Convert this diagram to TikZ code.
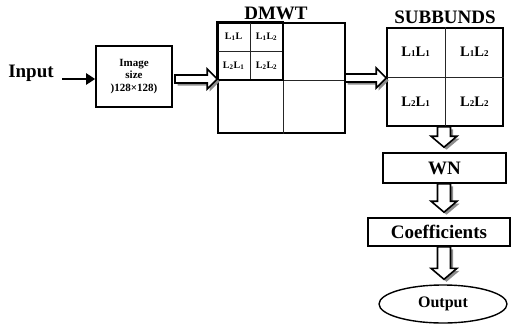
\documentclass[tikz,border=0pt]{standalone}
\usepackage{fontspec}
\setmainfont{Liberation Serif}
\usetikzlibrary{calc,arrows.meta,shapes.geometric}
\newcommand\hollowRpath[4]{%
  \path[#1] let \p1=(#3), \p2=(#4), \n1={\x2-\x1-10pt} in
    ($(#3)+(#2,#2)$) ++(0,-4) -- ++(\n1,0pt) -- ++(0,-6) -- ++(10,10) -- ++(-10,10)
    -- ++(0,-6) -- ++(-\n1,0pt) -- cycle;}
\newcommand\hollowright[2]{\hollowRpath{shadowfill}{2.5}{#1}{#2}\hollowRpath{arrowfill}{0}{#1}{#2}}
\newcommand\hollowDpath[4]{%
  \path[#1] let \p1=(#3), \p2=(#4), \n1={\y1-\y2-16pt} in
    ($(#3)+(#2,#2)$) ++(-6.5,0) -- ++(0pt,-\n1) -- ++(-6.5,0) -- ++(13,11) -- ++(13,-11)
    -- ++(-6.5,0) -- ++(0pt,\n1) -- cycle;}
\newcommand\hollowdown[2]{\hollowDpath{shadowfill}{2.5}{#1}{#2}\hollowDpath{arrowfill}{0}{#1}{#2}}
\newcommand\sbs[1]{{\fontsize{9}{10}\selectfont #1}}
\begin{document}
\begin{tikzpicture}[x=1pt,y=-1pt,
  box/.style={draw, line width=1.6pt, inner sep=0pt},
  lbl/.style={font=\bfseries\fontsize{19}{21}\selectfont},
  divider/.style={line width=0.8pt, draw=black!85},
  arrowfill/.style={fill=white, draw=black, line width=1.6pt, line join=miter},
  shadowfill/.style={fill=black!45},
  small/.style={font=\bfseries\fontsize{10}{11}\selectfont},
  mid/.style={font=\bfseries\fontsize{14.5}{16}\selectfont}]
\useasboundingbox (0,0) rectangle (511,330);

% input and image box
\node[lbl] (input) at (31,73) {Input};
\node[box, minimum width=76pt, minimum height=61pt, align=center,
      font=\bfseries\fontsize{11}{12.5}\selectfont] (img) at (134,76.5) {Image\\size\\)128×128)};
\coordinate (a0) at (62,79);
\draw[line width=2.6pt, -{Triangle[length=9pt,width=11pt]}] (a0) -- (a0 -| img.west);

% DMWT
\node[box, minimum width=127pt, minimum height=110pt] (dmwt) at (281.5,78) {};
\node[lbl] (dmwtl) at (276,13) {DMWT};
\coordinate (dmc) at (283,80);
\draw[divider] (dmc |- dmwt.north) -- (dmc |- dmwt.south);
\draw[divider] (dmc -| dmwt.west) -- (dmc -| dmwt.east);
\coordinate (qc) at ($(dmwt.north west)!0.5!(dmc)$);
\draw[divider] (qc |- dmwt.north) -- (qc |- dmc);
\draw[divider] (qc -| dmwt.west) -- (qc -| dmc);
\draw[line width=1.8pt] (dmwt.north west) rectangle (dmc);
\node[small] (q11) at ($(dmwt.north west)!0.5!(qc)$) {L\textsubscript{1}L};
\node[small] (q12) at ($(qc |- dmwt.north)!0.5!(qc -| dmc)$) {L\textsubscript{1}L\textsubscript{2}};
\node[small] (q21) at ($(qc -| dmwt.west)!0.5!(qc |- dmc)$) {L\textsubscript{2}L\textsubscript{1}};
\node[small] (q22) at ($(qc)!0.5!(dmc)$) {L\textsubscript{2}L\textsubscript{2}};

% SUBBUNDS
\node[box, minimum width=116pt, minimum height=98pt] (sub) at (445,77) {};
\node[lbl] (subl) at (445,17) {SUBBUNDS};
\draw[divider] (sub.north) -- (sub.south);
\draw[divider] (sub.west) -- (sub.east);
\node[mid] (s11) at ($(sub.north west)!0.5!(sub.center)$) {L\sbs{1}L\sbs{1}};
\node[mid] (s12) at ($(sub.north east)!0.5!(sub.center)$) {L\sbs{1}L\sbs{2}};
\node[mid] (s21) at ($(sub.south west)!0.5!(sub.center)$) {L\sbs{2}L\sbs{1}};
\node[mid] (s22) at ($(sub.south east)!0.5!(sub.center)$) {L\sbs{2}L\sbs{2}};

% WN, coefficients, output
\node[box, lbl, minimum width=123pt, minimum height=30pt] (wn) at (444.5,168) {WN};
\node[box, lbl, minimum width=142pt, minimum height=28pt] (coef) at (439,232) {Coefficients};
\node[draw, ellipse, line width=1.4pt, minimum width=128pt, minimum height=38pt, inner sep=0pt,
      font=\bfseries\fontsize{16}{18}\selectfont] (out) at (443,304) {Output};

% hollow arrows
\coordinate (h1) at (175,79);
\hollowright{h1}{dmwt.west}
\coordinate (h2) at (345,78);
\hollowright{h2}{sub.west}
\coordinate (vx) at (444,0);
\hollowdown{vx |- sub.south}{wn.north}
\hollowdown{vx |- wn.south}{coef.north}
\hollowdown{vx |- coef.south}{out.north}
\end{tikzpicture}
\end{document}
